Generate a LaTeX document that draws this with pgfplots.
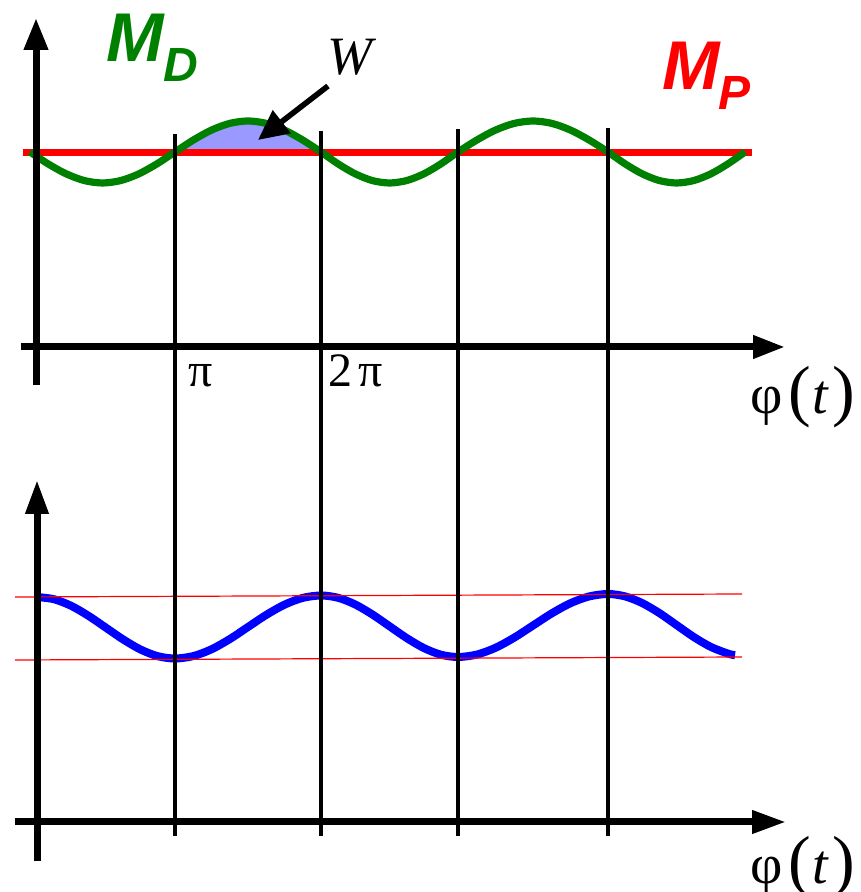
\documentclass[border=0pt]{standalone}
\usepackage{pgfplots}
\pgfplotsset{compat=1.18}
\usetikzlibrary{arrows.meta}
\usepackage{fontspec}
\setmainfont{Liberation Serif}
\newfontfamily\lsans{Liberation Sans}
\definecolor{mdgreen}{HTML}{008000}
\definecolor{wfill}{HTML}{9999FF}
\newcommand{\phit}{\fontsize{28}{30}\selectfont φ\kern3pt{\fontsize{34}{34}\selectfont(}\kern0.5pt\textit{t}\kern1.5pt{\fontsize{34}{34}\selectfont)}}
\begin{document}
\begin{tikzpicture}
\begin{axis}[x=0.5pt,y=0.5pt,xmin=0,xmax=860,ymin=-892,ymax=0,
  hide axis, clip=false, at={(0,0)}, anchor=south west]
% W area
\addplot[fill=wfill, draw=none, smooth] coordinates {
 (175,-152) (193.25,-140.1) (211.5,-130.1) (229.75,-123.4) (248,-121)
 (266.25,-123.4) (284.5,-130.1) (302.75,-140.1) (321,-152)} -- cycle;
% M_P
\addplot[red, line width=3.5pt] coordinates {(23,-153) (752,-153)};
% M_D
\addplot[mdgreen, line width=3.6pt, smooth] coordinates {
 (30,-152) (48.1,-163.9) (66.3,-173.9) (84.4,-180.6) (102.5,-183) (120.6,-180.6) (138.8,-173.9) (156.9,-163.9)
 (175,-152) (193.25,-140.1) (211.5,-130.1) (229.75,-123.4) (248,-121) (266.25,-123.4) (284.5,-130.1) (302.75,-140.1)
 (321,-152) (338.1,-163.9) (355.3,-173.9) (372.4,-180.6) (389.5,-183) (406.6,-180.6) (423.8,-173.9) (440.9,-163.9)
 (458,-152) (476.75,-140.1) (495.5,-130.1) (514.25,-123.4) (533,-121) (551.75,-123.4) (570.5,-130.1) (589.25,-140.1)
 (608,-152) (625.1,-163.9) (642.3,-173.9) (659.4,-180.6) (676.5,-183) (693.6,-180.6) (710.8,-173.9) (727.9,-163.9)
 (745,-152)};
% speed curve
\addplot[blue, line width=4pt, smooth] coordinates {
 (37,-597) (54.25,-599.3) (71.5,-606.0) (88.75,-616.0) (106,-627.75) (123.25,-639.5) (140.5,-649.5) (157.75,-656.2)
 (175,-658.5) (193.25,-656.1) (211.5,-649.3) (229.75,-639.1) (248,-627) (266.25,-614.9) (284.5,-604.7) (302.75,-597.9)
 (321,-595.5) (338.1,-597.8) (355.25,-604.5) (372.4,-614.5) (389.5,-626.25) (406.6,-638.0) (423.75,-648.0) (440.9,-654.7)
 (458,-657) (476.75,-654.6) (495.5,-647.8) (514.25,-637.6) (533,-625.5) (551.75,-613.4) (570.5,-603.2) (589.25,-596.4)
 (608,-594) (625.1,-596.4) (642.25,-603.1) (659.4,-613.1) (676.5,-625) (693.6,-636.9) (710.75,-646.9) (727.9,-653.6)
 (735,-655.2)};
% bounds
\addplot[red, line width=0.6pt] coordinates {(15,-597) (742,-594)};
\addplot[red, line width=0.6pt] coordinates {(15,-660) (742,-657)};
% vertical lines
\addplot[black, line width=1.75pt] coordinates {(175,-134) (175,-836)};
\addplot[black, line width=1.75pt] coordinates {(321,-131) (321,-836)};
\addplot[black, line width=1.75pt] coordinates {(458,-129) (458,-836)};
\addplot[black, line width=1.75pt] coordinates {(608,-128) (608,-836)};
% axes
\draw[line width=3.5pt, -{Triangle[length=16pt,width=11.5pt]}] (axis cs:36,-385) -- (axis cs:36,-18);
\draw[line width=3.5pt, -{Triangle[length=16pt,width=11pt]}] (axis cs:21,-347) -- (axis cs:785,-347);
\draw[line width=3.5pt, -{Triangle[length=17pt,width=11pt]}] (axis cs:37,-861) -- (axis cs:37,-480);
\draw[line width=3.5pt, -{Triangle[length=17pt,width=11pt]}] (axis cs:15,-822) -- (axis cs:786,-822);
% W arrow
\draw[line width=2.8pt, -{Triangle[length=15pt,width=14pt]}] (axis cs:328,-86) -- (axis cs:258,-140);
% labels
\node[anchor=base west, inner sep=0, text=mdgreen] at (axis cs:106,-62) {\lsans\bfseries\itshape\fontsize{34.5}{36}\selectfont M};
\node[anchor=base west, inner sep=0, text=mdgreen] at (axis cs:163,-82) {\lsans\bfseries\itshape\fontsize{24}{26}\selectfont D};
\node[anchor=base west, inner sep=0, text=red] at (axis cs:662,-90) {\lsans\bfseries\itshape\fontsize{34.5}{36}\selectfont M};
\node[anchor=base west, inner sep=0, text=red] at (axis cs:718,-110) {\lsans\bfseries\itshape\fontsize{24}{26}\selectfont P};
\node[anchor=base west, inner sep=0] at (axis cs:327,-75) {\itshape\fontsize{27}{30}\selectfont W};
\node[anchor=base west, inner sep=0] at (axis cs:188,-387) {\fontsize{24}{26}\selectfont π};
\node[anchor=base west, inner sep=0] at (axis cs:328,-387) {\fontsize{24}{26}\selectfont 2\kern3ptπ};
\node[anchor=base west, inner sep=0] at (axis cs:750,-414) {\phit};
\node[anchor=base west, inner sep=0] at (axis cs:750,-883) {\phit};
\end{axis}
\pgfresetboundingbox
\path (0,0) rectangle (430pt,446pt);
\end{tikzpicture}
\end{document}
